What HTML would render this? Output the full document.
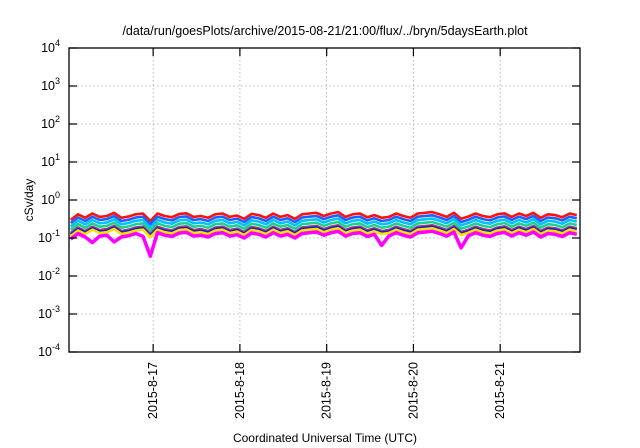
<!DOCTYPE html>
<html><head><meta charset="utf-8"><style>
body{margin:0;background:#fff;}
svg{display:block;font-family:"Liberation Sans",sans-serif;}
</style></head><body>
<svg id="chart" width="640" height="448" xmlns="http://www.w3.org/2000/svg">
<text x="325" y="35" font-size="12.5" text-anchor="middle" fill="#000">/data/run/goesPlots/archive/2015-08-21/21:00/flux/../bryn/5daysEarth.plot</text>
<text x="0" y="0" transform="translate(33,200) rotate(-90)" font-size="12" text-anchor="middle">cSv/day</text>
<text x="325" y="442" font-size="12" text-anchor="middle">Coordinated Universal Time (UTC)</text>
<g id="grid"></g><g id="series"></g><g id="axes"></g>
</svg>
<script>
const xTickDays=[17,18,19,20,21];
const xTickLabels=["2015-8-17","2015-8-18","2015-8-19","2015-8-20","2015-8-21"];
const yTickExps=[-4,-3,-2,-1,0,1,2,3,4];
const seriesNames=["red","blue","cyan","green","purple","navy","yellow","magenta"];
const seriesColors=["#ff1010","#2060ff","#00c0ff","#20d090","#a04080","#2020c0","#ffe000","#ff00ff"];
const seriesLevels=[0.40,0.33,0.27,0.22,0.18,0.165,0.15,0.125];
const shape=[0.75,1.05,0.85,1.1,0.9,0.95,1.15,0.85,0.92,1.05,1.1,0.7,1.1,0.95,0.88,1.08,1.12,0.9,0.95,0.85,1.05,1.1,0.9,0.98,0.8,1.08,1.0,0.85,1.1,0.9,1.0,0.8,1.05,1.1,1.15,0.95,1.1,1.2,0.9,1.05,1.1,0.88,1.0,0.85,0.9,1.1,0.95,0.85,1.1,1.15,1.2,1.05,0.9,1.15,0.8,0.92,1.1,0.95,0.88,1.05,1.12,0.9,1.1,0.95,1.15,0.85,1.05,1.0,0.88,1.1,1.0];
const magentaDips=[1,1,1,0.55,1,1,0.55,1,1,1,0.8,0.38,1,1,1,1,1,1,1,1,1,1,1,1,1,1,1,1,1,1,1,1,1,1,1,1,1,1,1,1,1,1,1,0.6,1,1,1,1,1,1,1,1,1,1,0.55,1,1,1,1,1,1,1,1,1,1,1,1,1,1,1,1];
const startDay=16.05, stepDay=2/24;
const X0=69,X1=580,Y0=48,Y1=352,D0=16.03,D1=21.92;
const xs=d=>X0+(d-D0)/(D1-D0)*(X1-X0);
const ys=v=>Y1-(Math.log10(v)+4)/8*(Y1-Y0);
const NS="http://www.w3.org/2000/svg";
function mk(t,a,p){const e=document.createElementNS(NS,t);for(const k in a)e.setAttribute(k,a[k]);p.appendChild(e);return e;}
const grid=document.getElementById('grid'),axes=document.getElementById('axes'),ser=document.getElementById('series');
yTickExps.forEach(ex=>{const y=ys(Math.pow(10,ex));
 if(ex>-4&&ex<4){const g=mk('line',{x1:X0,x2:X1,y1:y,y2:y,stroke:'#aaa','stroke-width':0.8,'stroke-dasharray':'1.5,2.5'},grid);
 }
 const t1=mk('line',{x1:X0,x2:X0+8,y1:y,y2:y,stroke:'#000','stroke-width':1.2},axes);
 
 const t2=mk('line',{x1:X1-8,x2:X1,y1:y,y2:y,stroke:'#000','stroke-width':1.2},axes);
 
 const tx=mk('text',{x:60,y:y+4,'font-size':12.5,'text-anchor':'end'},axes);
 
 tx.appendChild(document.createTextNode('10'));
 const s=mk('tspan',{dy:-6,'font-size':9},tx);s.textContent=String(ex);
});
xTickDays.forEach((d,i)=>{const x=xs(d);
 const g=mk('line',{x1:x,x2:x,y1:Y0,y2:Y1,stroke:'#aaa','stroke-width':0.8,'stroke-dasharray':'1.5,2.5'},grid);
 
 const t=mk('line',{x1:x,x2:x,y1:Y1-8,y2:Y1,stroke:'#000','stroke-width':1.2},axes);
 
 const t2=mk('line',{x1:x,x2:x,y1:Y0,y2:Y0+8,stroke:'#000','stroke-width':1.2},axes);
 
 const tx=mk('text',{x:0,y:0,'font-size':12.5,'text-anchor':'end',transform:`translate(${x+4},362) rotate(-90)`},axes);
 
 tx.textContent=xTickLabels[i];
});
seriesNames.forEach((n,si)=>{
 const pts=shape.map((s,i)=>{let v=seriesLevels[si]*s;if(n==='magenta')v*=magentaDips[i];
  return xs(startDay+i*stepDay).toFixed(1)+','+ys(v).toFixed(1);}).join(' ');
 const p=mk('polyline',{points:pts,fill:'none',stroke:seriesColors[si],'stroke-width':n==='magenta'?3.5:2.6,'stroke-linejoin':'round'},ser);
 
});
const r=mk('rect',{x:X0,y:Y0,width:X1-X0,height:Y1-Y0,fill:'none',stroke:'#000','stroke-width':1.3},axes);

</script>
</body></html>
